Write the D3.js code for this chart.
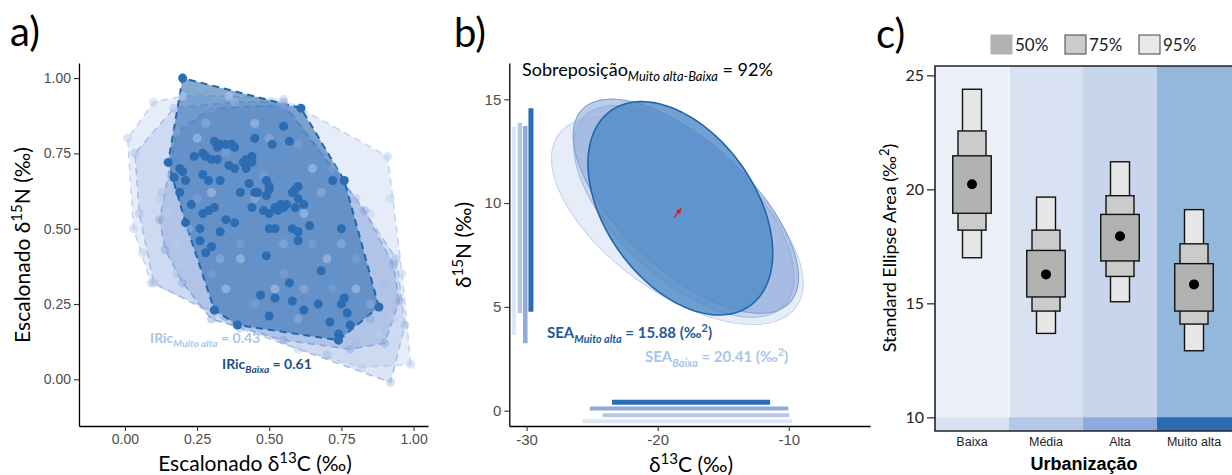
<!DOCTYPE html>
<html>
<head>
<meta charset="utf-8">
<script src="https://cdn.jsdelivr.net/npm/d3@7"></script>
<style>
  body { margin: 0; background: #fff; }
  svg { display: block; }
</style>
</head>
<body>
<div id="chart"></div>
<script>
// ---------------- data ----------------
var groups = ['Baixa', 'Média', 'Alta', 'Muito alta'];

// panel a: scaled isotopic niche points per urbanisation group
var ptsBaixa = [
  [0.20,1.00],[0.61,0.90],[0.55,0.84],[0.57,0.79],[0.45,0.80],[0.51,0.78],
  [0.31,0.79],[0.33,0.78],[0.35,0.78],[0.37,0.78],[0.38,0.77],
  [0.27,0.75],[0.28,0.74],[0.32,0.77],[0.24,0.74],[0.30,0.73],[0.32,0.73],[0.42,0.73],[0.44,0.74],[0.36,0.71],[0.38,0.70],[0.41,0.72],
  [0.15,0.72],[0.19,0.70],[0.20,0.69],[0.42,0.70],[0.44,0.72],
  [0.17,0.67],[0.21,0.66],[0.27,0.68],[0.29,0.66],[0.33,0.66],[0.43,0.65],[0.49,0.66],[0.50,0.64],[0.60,0.64],[0.72,0.66],[0.76,0.66],
  [0.19,0.62],[0.23,0.58],[0.40,0.62],[0.45,0.62],[0.46,0.62],[0.49,0.61],[0.50,0.63],[0.59,0.63],[0.60,0.60],[0.58,0.62],
  [0.27,0.55],[0.29,0.56],[0.31,0.57],[0.35,0.53],[0.38,0.52],[0.44,0.57],[0.48,0.56],[0.50,0.55],[0.54,0.58],[0.55,0.57],[0.56,0.58],[0.62,0.58],[0.59,0.57],[0.52,0.57],[0.53,0.56],
  [0.21,0.52],[0.26,0.50],[0.33,0.49],[0.50,0.50],[0.52,0.50],[0.58,0.50],[0.60,0.49],[0.64,0.51],[0.75,0.50],[0.60,0.46],
  [0.26,0.46],[0.28,0.42],[0.30,0.44],[0.49,0.41],
  [0.68,0.36],[0.57,0.32],
  [0.47,0.28],[0.52,0.27],[0.58,0.26],[0.62,0.23],[0.67,0.25],[0.75,0.25],[0.76,0.27],[0.88,0.24],[0.31,0.23],
  [0.39,0.18],[0.50,0.21],[0.71,0.19],[0.77,0.22],[0.78,0.18],[0.74,0.15],[0.74,0.13]
];
var ptsMedia = [
  [0.035,0.75],[0.17,0.90],[0.38,0.92],[0.55,0.92],[0.80,0.60],[0.94,0.40],[0.97,0.18],[0.92,-0.01],
  [0.70,0.08],[0.40,0.17],[0.10,0.32],[0.05,0.55],[0.13,0.62],[0.22,0.50],[0.28,0.85],[0.33,0.40],
  [0.45,0.60],[0.55,0.45],[0.62,0.30],[0.68,0.62],[0.75,0.45],[0.85,0.25],[0.90,0.32],[0.18,0.35],
  [0.50,0.80],[0.80,0.12],[0.60,0.20]
];
var ptsAlta = [
  [0.12,0.53],[0.18,0.82],[0.30,0.90],[0.55,0.91],[0.72,0.70],[0.83,0.56],[0.93,0.38],[0.95,0.26],
  [0.90,0.12],[0.78,0.10],[0.55,0.13],[0.30,0.20],[0.20,0.32],[0.14,0.43],[0.25,0.60],[0.35,0.75],
  [0.40,0.45],[0.48,0.68],[0.55,0.35],[0.60,0.78],[0.65,0.45],[0.72,0.30],[0.80,0.40],[0.85,0.20],
  [0.30,0.35],[0.45,0.25]
];
var ptsMuitoAlta = [
  [0.01,0.80],[0.10,0.92],[0.20,0.94],[0.36,0.94],[0.55,0.93],[0.91,0.74],[0.92,0.60],[0.96,0.35],
  [0.99,0.05],[0.82,0.04],[0.60,0.10],[0.09,0.32],[0.03,0.50],[0.12,0.60],[0.18,0.45],[0.25,0.80],
  [0.30,0.62],[0.40,0.40],[0.45,0.85],[0.52,0.30],[0.65,0.70],[0.70,0.40],[0.80,0.30],[0.85,0.55],
  [0.88,0.15],[0.93,0.20],[0.15,0.55],[0.06,0.42],[0.35,0.30],[0.62,0.55]
];
var aTicks = [0, 0.25, 0.5, 0.75, 1];

// panel b: ellipse parameters (centre, sd x, sd y, correlation) per group
var ellCx = [-18.5, -18.0, -17.85, -18.27];
var ellCy = [9.15, 9.6, 9.85, 9.75];
var ellSx = [9.6, 8.4, 8.6, 7.05];
var ellSy = [5.0, 5.1, 5.16, 5.14];
var ellR  = [-0.60, -0.62, -0.66, -0.42];
// marginal ranges (rugs)
var rangeN_x = [-30.97, -30.51, -30.10, -29.67];
var rangeN_lo = [3.65, 4.69, 3.25, 4.77];
var rangeN_hi = [13.68, 13.87, 13.71, 14.57];
var rangeC_y = [-0.51, -0.22, 0.10, 0.40];
var rangeC_lo = [-25.74, -24.2, -25.18, -23.48];
var rangeC_hi = [-9.74, -9.95, -10.03, -11.42];
var bTicksX = [-30, -20, -10];
var bTicksY = [0, 5, 10, 15];

// panel c: SEA credible intervals
var q95lo = [17.0, 13.68, 15.07, 12.92];
var q95hi = [24.39, 19.66, 21.21, 19.11];
var q75lo = [18.21, 14.66, 16.18, 14.09];
var q75hi = [22.56, 18.21, 19.72, 17.61];
var q50lo = [18.95, 15.28, 16.86, 14.66];
var q50hi = [21.47, 17.32, 18.90, 16.74];
var seaMode = [20.22, 16.27, 17.94, 15.83];
var cTicks = [10, 15, 20, 25];
var legendLabels = ['50%', '75%', '95%'];

// ---------------- svg ----------------
var W = 1232, H = 475;
var svg = d3.select('#chart').append('svg')
  .attr('width', W)
  .attr('height', H);

var calibri = 'Lato, "Open Sans", sans-serif';
var arial = '"Liberation Sans", Arial, sans-serif';

// write text with sub/superscript pieces
function richText(g, x, y, parts, opts) {
  var t = g.append('text')
    .attr('x', x).attr('y', y)
    .attr('font-family', opts.family)
    .attr('font-size', opts.size)
    .attr('font-weight', opts.weight || 'normal')
    .attr('fill', opts.fill || '#000')
    .attr('text-anchor', opts.anchor || 'start');
  if (opts.transform) t.attr('transform', opts.transform);
  var shift = 0;
  parts.forEach(function(p) {
    var s = t.append('tspan').text(p.t);
    var target = 0;
    if (p.sub) target = opts.size * 0.3;
    if (p.sup) target = -opts.size * 0.4;
    if (target !== shift) { s.attr('dy', target - shift); shift = target; }
    if (p.sub || p.sup) s.attr('font-size', opts.size * 0.72);
    if (p.sub) s.attr('font-style', 'italic').attr('font-weight', opts.weight || 'normal');
  });
  return t;
}

function styleAxis(g, size, color) {
  g.select('.domain').attr('stroke', '#000').attr('stroke-width', 1.3);
  g.selectAll('.tick line').attr('stroke', '#333').attr('stroke-width', 1.1);
  g.selectAll('.tick text')
    .attr('font-family', arial)
    .attr('font-size', size)
    .attr('fill', color);
}

// ================= panel a =================
var xA = d3.scaleLinear().domain([-0.159, 1.05]).range([79, 428]);
var yA = d3.scaleLinear().domain([-0.155, 1.05]).range([426, 63]);
var gA = svg.append('g');

var aGroups = [
  { pts: ptsMuitoAlta, fill: '#c5d4ef', fo: 0.42, stroke: '#c5d4ef', pc: '#bccdec', po: 0.5 },
  { pts: ptsMedia,     fill: '#a9bfe6', fo: 0.40, stroke: '#a9bfe6', pc: '#9fb7e3', po: 0.45 },
  { pts: ptsAlta,      fill: '#8ba7dc', fo: 0.42, stroke: '#8ba7dc', pc: '#85a3da', po: 0.45 },
  { pts: ptsBaixa,     fill: '#2b6cb2', fo: 0.58, stroke: '#2166ac', pc: '#2b6cb2', po: 1 }
];

aGroups.forEach(function(grp, i) {
  var hull = d3.polygonHull(grp.pts.map(function(p) { return [xA(p[0]), yA(p[1])]; }));
  gA.append('path')
    .attr('d', 'M' + hull.join('L') + 'Z')
    .attr('fill', grp.fill)
    .attr('fill-opacity', grp.fo)
    .attr('stroke', grp.stroke)
    .attr('stroke-width', i === 3 ? 2 : 1.6)
    .attr('stroke-dasharray', '7,5');
});
aGroups.forEach(function(grp, i) {
  gA.selectAll('circle.g' + i)
    .data(grp.pts)
    .enter()
    .append('circle')
    .attr('class', 'g' + i)
    .attr('cx', d => xA(d[0]))
    .attr('cy', d => yA(d[1]))
    .attr('r', 4.5)
    .attr('fill', grp.pc)
    .attr('fill-opacity', grp.po);
});

var axA_y = gA.append('g').attr('transform', 'translate(79,0)')
  .call(d3.axisLeft(yA).tickValues(aTicks).tickFormat(d3.format('.2f')).tickSize(5).tickSizeOuter(0));
styleAxis(axA_y, 14, '#4d4d4d');
var axA_x = gA.append('g').attr('transform', 'translate(0,426)')
  .call(d3.axisBottom(xA).tickValues(aTicks).tickFormat(d3.format('.2f')).tickSize(5).tickSizeOuter(0));
styleAxis(axA_x, 14, '#4d4d4d');

svg.append('text').attr('x', 10).attr('y', 46).text('a)')
  .attr('font-family', calibri).attr('font-size', 40);

richText(svg, 0, 0, [{t: 'Escalonado δ'}, {t: '15', sup: true}, {t: 'N (‰)'}],
  { family: calibri, size: 21, anchor: 'middle', transform: 'translate(30,245) rotate(-90)' });
richText(svg, 255, 471, [{t: 'Escalonado δ'}, {t: '13', sup: true}, {t: 'C  (‰)'}],
  { family: calibri, size: 21, anchor: 'middle' });

richText(svg, 150, 343, [{t: 'IRic'}, {t: 'Muito alta', sub: true}, {t: ' = 0.43'}],
  { family: calibri, size: 14, weight: 'bold', fill: '#a9c6ea' });
richText(svg, 222, 369, [{t: 'IRic'}, {t: 'Baixa', sub: true}, {t: ' = 0.61'}],
  { family: calibri, size: 14, weight: 'bold', fill: '#1f4e86' });

// ================= panel b =================
var xB = d3.scaleLinear().domain([-31.32, -3.8]).range([509.3, 870]);
var yB = d3.scaleLinear().domain([-0.74, 16.75]).range([426, 63]);
var gB = svg.append('g');

var ellFill = ['#d3def2', '#b2c5e8', '#8eaadb', '#4f89c6'];
var ellFo = [0.55, 0.55, 0.6, 0.8];
var ellStroke = ['#c6d4ee', '#a2b9e3', '#7f9fd6', '#2166ac'];
var barColor = ['#dde6f5', '#b4c7e8', '#8eaadb', '#2b6cb2'];

var tt = d3.range(0, 2 * Math.PI, Math.PI / 90);
groups.forEach(function(g, i) {
  var s = Math.sqrt(1 - ellR[i] * ellR[i]);
  var pts = tt.map(function(t) {
    var x = ellCx[i] + ellSx[i] * Math.cos(t);
    var y = ellCy[i] + ellSy[i] * (ellR[i] * Math.cos(t) + s * Math.sin(t));
    return [xB(x), yB(y)];
  });
  gB.append('path')
    .attr('d', d3.line().curve(d3.curveLinearClosed)(pts))
    .attr('fill', ellFill[i])
    .attr('fill-opacity', ellFo[i])
    .attr('stroke', ellStroke[i])
    .attr('stroke-width', i === 3 ? 1.6 : 1.1);
});

// marginal range bars
groups.forEach(function(g, i) {
  gB.append('line')
    .attr('x1', xB(rangeN_x[i])).attr('x2', xB(rangeN_x[i]))
    .attr('y1', yB(rangeN_lo[i])).attr('y2', yB(rangeN_hi[i]))
    .attr('stroke', barColor[i]).attr('stroke-width', i === 3 ? 5 : 4.5);
  gB.append('line')
    .attr('x1', xB(rangeC_lo[i])).attr('x2', xB(rangeC_hi[i]))
    .attr('y1', yB(rangeC_y[i])).attr('y2', yB(rangeC_y[i]))
    .attr('stroke', barColor[i]).attr('stroke-width', i === 3 ? 5 : 4);
});

// small red arrow at the centroid
var ax0 = xB(-18.75), ay0 = yB(9.3), ax1 = xB(-18.2), ay1 = yB(9.75);
gB.append('line').attr('x1', ax0).attr('y1', ay0).attr('x2', ax1).attr('y2', ay1)
  .attr('stroke', '#e8141b').attr('stroke-width', 1.3);
var ang = Math.atan2(ay1 - ay0, ax1 - ax0);
gB.append('path')
  .attr('d', 'M' + ax1 + ',' + ay1 +
    'L' + (ax1 - 6 * Math.cos(ang - 0.45)) + ',' + (ay1 - 6 * Math.sin(ang - 0.45)) +
    'L' + (ax1 - 6 * Math.cos(ang + 0.45)) + ',' + (ay1 - 6 * Math.sin(ang + 0.45)) + 'Z')
  .attr('fill', '#e8141b');

var axB_y = gB.append('g').attr('transform', 'translate(509.3,0)')
  .call(d3.axisLeft(yB).tickValues(bTicksY).tickFormat(d => String(d)).tickSize(5).tickSizeOuter(0));
styleAxis(axB_y, 15, '#4d4d4d');
var axB_x = gB.append('g').attr('transform', 'translate(0,426)')
  .call(d3.axisBottom(xB).tickValues(bTicksX).tickFormat(d => String(d)).tickSize(5).tickSizeOuter(0));
styleAxis(axB_x, 15, '#4d4d4d');

svg.append('text').attr('x', 454).attr('y', 47).text('b)')
  .attr('font-family', calibri).attr('font-size', 40);

richText(svg, 0, 0, [{t: 'δ'}, {t: '15', sup: true}, {t: 'N (‰)'}],
  { family: calibri, size: 21, anchor: 'middle', transform: 'translate(471,245) rotate(-90)' });
richText(svg, 691, 472, [{t: 'δ'}, {t: '13', sup: true}, {t: 'C  (‰)'}],
  { family: calibri, size: 21, anchor: 'middle' });

richText(svg, 522, 76, [{t: 'Sobreposição'}, {t: 'Muito alta-Baixa', sub: true}, {t: ' = 92%'}],
  { family: calibri, size: 18 });
richText(svg, 547, 338, [{t: 'SEA'}, {t: 'Muito alta', sub: true}, {t: ' = 15.88 (‰'}, {t: '2', sup: true}, {t: ')'}],
  { family: calibri, size: 15, weight: 'bold', fill: '#23589a' });
richText(svg, 645, 362, [{t: 'SEA'}, {t: 'Baixa', sub: true}, {t: ' = 20.41 (‰'}, {t: '2', sup: true}, {t: ')'}],
  { family: calibri, size: 15, weight: 'bold', fill: '#a9c6ea' });

// ================= panel c =================
var xC = d3.scaleBand().domain(groups).range([935, 1231]).padding(0);
var yC = d3.scaleLinear().domain([9.4, 25.41]).range([431, 66]);
var gC = svg.append('g');

var bandFill = ['#eaeff8', '#d9e2f3', '#c7d5ed', '#94b8db'];
var stripFill = ['#d9e2f3', '#b4c7e7', '#8faadc', '#2b6cb1'];

gC.selectAll('rect.band').data(groups).enter().append('rect')
  .attr('class', 'band')
  .attr('x', d => xC(d)).attr('y', yC(25.41))
  .attr('width', xC.bandwidth() + 1)
  .attr('height', yC(9.4) - yC(25.41))
  .attr('fill', (d, i) => bandFill[i]);
gC.selectAll('rect.strip').data(groups).enter().append('rect')
  .attr('class', 'strip')
  .attr('x', d => xC(d)).attr('y', yC(10))
  .attr('width', xC.bandwidth() + 1)
  .attr('height', yC(9.4) - yC(10))
  .attr('fill', (d, i) => stripFill[i]);
gC.append('line')
  .attr('x1', xC('Média')).attr('x2', xC('Média'))
  .attr('y1', yC(25.41)).attr('y2', yC(10))
  .attr('stroke', '#fff').attr('stroke-width', 1.2).attr('stroke-opacity', 0.8);

var boxLevels = [
  { lo: q95lo, hi: q95hi, w: 19, fill: '#e6e6e6' },
  { lo: q75lo, hi: q75hi, w: 28, fill: '#cbcbcb' },
  { lo: q50lo, hi: q50hi, w: 38.5, fill: '#b2b2b2' }
];
boxLevels.forEach(function(lv) {
  gC.selectAll(null).data(groups).enter().append('rect')
    .attr('x', d => xC(d) + xC.bandwidth() / 2 - lv.w / 2)
    .attr('y', (d, i) => yC(lv.hi[i]))
    .attr('width', lv.w)
    .attr('height', (d, i) => yC(lv.lo[i]) - yC(lv.hi[i]))
    .attr('fill', lv.fill)
    .attr('stroke', '#111')
    .attr('stroke-width', 1.4);
});
gC.selectAll('circle.mode').data(groups).enter().append('circle')
  .attr('class', 'mode')
  .attr('cx', d => xC(d) + xC.bandwidth() / 2)
  .attr('cy', (d, i) => yC(seaMode[i]))
  .attr('r', 5)
  .attr('fill', '#000');

// frame
gC.append('path')
  .attr('d', 'M1234,' + yC(25.41) + 'H935V' + yC(9.4) + 'H1234')
  .attr('fill', 'none').attr('stroke', '#222').attr('stroke-width', 1.6);

var axC_y = gC.append('g').attr('transform', 'translate(935,0)')
  .call(d3.axisLeft(yC).tickValues(cTicks).tickFormat(d => String(d)).tickSize(8).tickSizeOuter(0));
axC_y.select('.domain').remove();
axC_y.selectAll('.tick line').attr('stroke', '#222').attr('stroke-width', 1.2);
axC_y.selectAll('.tick text').attr('font-family', calibri).attr('font-size', 16).attr('fill', '#222');

gC.selectAll('text.cat').data(groups).enter().append('text')
  .attr('class', 'cat')
  .attr('x', d => xC(d) + xC.bandwidth() / 2)
  .attr('y', 446)
  .attr('text-anchor', 'middle')
  .attr('font-family', arial)
  .attr('font-size', 12.5)
  .attr('fill', '#222')
  .text(d => d);

svg.append('text').attr('x', 1084).attr('y', 470).attr('text-anchor', 'middle')
  .attr('font-family', arial).attr('font-size', 18).attr('font-weight', 'bold')
  .text('Urbanização');

richText(svg, 0, 0, [{t: 'Standard Ellipse Area (‰'}, {t: '2', sup: true}, {t: ')'}],
  { family: calibri, size: 18, anchor: 'middle', transform: 'translate(896,248) rotate(-90)' });

svg.append('text').attr('x', 876).attr('y', 48).text('c)')
  .attr('font-family', calibri).attr('font-size', 40);

// legend
var legX = [991, 1065, 1139];
var legFill = ['#b2b2b2', '#cbcbcb', '#e8e8e8'];
var legStroke = ['#b2b2b2', '#444', '#444'];
legendLabels.forEach(function(l, i) {
  svg.append('rect').attr('x', legX[i]).attr('y', 35).attr('width', 21).attr('height', 19)
    .attr('fill', legFill[i]).attr('stroke', legStroke[i]).attr('stroke-width', 1);
  svg.append('text').attr('x', legX[i] + 24).attr('y', 51).text(l)
    .attr('font-family', calibri).attr('font-size', 17).attr('fill', '#222');
});
</script>
</body>
</html>
